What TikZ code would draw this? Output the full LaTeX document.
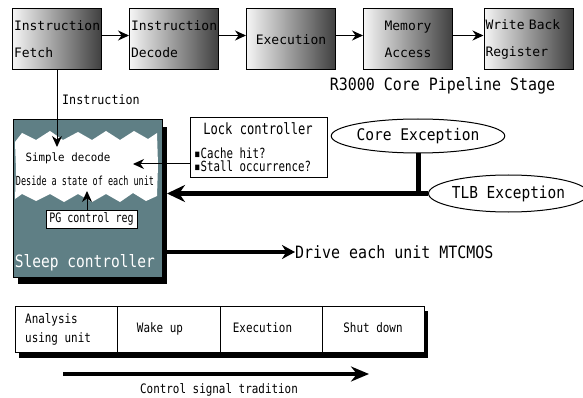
\documentclass[tikz,border=0pt]{standalone}
\usepackage{fontspec}
\setmainfont{DejaVu Sans Mono}
\usetikzlibrary{shapes.geometric,arrows.meta,shadows}
\definecolor{sleepfill}{HTML}{5F7F85}
\newcommand{\myfs}[2]{\fontsize{#1}{#2}\selectfont}
\newcommand{\tx}[3]{\scalebox{#2}[1]{\fontsize{#1}{#1}\selectfont #3}}
\begin{document}
\begin{tikzpicture}[x=1pt,y=-1pt,
  stage/.style={draw=black, line width=1pt, shading=axis, left color=white!96!black, right color=black!75,
    minimum width=89pt, minimum height=61pt, inner sep=1pt, text width=86pt, font=\myfs{13}{27}},
  pipearrow/.style={line width=1.3pt, -{Stealth[length=11pt,width=10pt]}},
  thinarrow/.style={line width=1pt, -{Stealth[length=11pt,width=10pt]}},
  bigarrow/.style={line width=5pt, -{Stealth[length=18pt,width=17pt]}},
  midarrow/.style={line width=4pt, -{Stealth[length=13pt,width=14pt]}},
  thickline/.style={line width=5pt},
  plainbox/.style={draw=black, line width=1pt, fill=white},
  exc/.style={draw=black, line width=1pt, ellipse, inner sep=0pt, fill=white},
  cell/.style={draw=black, line width=1pt, fill=white, minimum height=46pt, inner sep=0pt},
  lbl/.style={inner sep=0pt}
]
\useasboundingbox (0,0) rectangle (583,398);

% pipeline stages
\node[stage, align=left] (b1) at (57,39.5) {Instruction\\Fetch};
\node[stage, align=left] (b2) at (174,39.5) {Instruction\\Decode};
\node[stage, align=center] (b3) at (291,39.5) {Execution};
\node[stage, align=center] (b4) at (408,39.5) {Memory\\Access};
\node[stage, align=left] (b5) at (528.5,39.5) {Write Back\\Register};
\draw[pipearrow] ([yshift=4pt]b1.east) -- ([yshift=4pt]b2.west);
\draw[pipearrow] ([yshift=4pt]b2.east) -- ([yshift=4pt]b3.west);
\draw[pipearrow] ([yshift=4pt]b3.east) -- ([yshift=4pt]b4.west);
\draw[pipearrow] ([yshift=4pt]b4.east) -- ([yshift=4pt]b5.west);
\node[lbl] (title) at (442.5,86) {\tx{17}{0.88}{R3000 Core Pipeline Stage}};

% sleep controller
\node[draw=black, line width=1pt, fill=sleepfill, minimum width=149pt, minimum height=157pt, inner sep=0pt,
  drop shadow={shadow xshift=5pt, shadow yshift=-7pt, fill=black, opacity=1}] (sleep) at (87.5,198.5) {};
\fill[white] (15,142) -- (22,133) -- (36,140) -- (50,131) -- (63,140) -- (78,132) -- (92,140) -- (106,131)
  -- (120,140) -- (134,131) -- (148,139) -- (157,133) -- (158,165) -- (157,196) -- (146,201) -- (133,193)
  -- (120,202) -- (106,194) -- (92,202) -- (78,194) -- (64,202) -- (50,194) -- (36,201) -- (22,194)
  -- (15,199) -- (16,170) -- cycle;
\node[lbl] (sdec) at (68,158) {\tx{11.4}{0.95}{Simple decode}};
\node[lbl] (deside) at (85,181) {\tx{12.5}{0.68}{Deside a state of each unit}};
\node[plainbox, minimum width=91pt, minimum height=18pt, inner sep=0pt] (pg) at (91.5,219) {\tx{13}{0.77}{PG control reg}};
\coordinate (pgtip) at (87,191);
\draw[thinarrow] (pg.north -| pgtip) -- (pgtip);
\node[lbl, text=white] (sleeplbl) at (85,263) {\tx{17}{0.855}{Sleep controller}};

% instruction line
\coordinate (instip) at (57,147);
\draw[thinarrow] (b1.south) -- (instip);
\node[lbl, anchor=west] (inslbl) at (62,100) {\tx{13}{0.9}{Instruction}};

% lock controller
\node[plainbox, minimum width=137pt, minimum height=60pt, inner sep=0pt] (lock) at (258.5,148) {};
\node[lbl] (locktitle) at (258,129) {\tx{15.5}{0.78}{Lock controller}};
\node[lbl, anchor=west] (cache) at (194,153) {\tx{14}{0.77}{▪Cache hit?}};
\node[lbl, anchor=west] (stall) at (194,166) {\tx{14}{0.77}{▪Stall occurrence?}};
\coordinate (locktip) at (133,164);
\draw[thinarrow] (lock.west |- locktip) -- (locktip);

% exceptions
\node[exc, minimum width=152pt, minimum height=34pt] (core) at (418,136) {\tx{16}{0.91}{Core Exception}};
\node[exc, minimum width=143pt, minimum height=37pt] (tlb) at (508.5,193.5) {\tx{16.5}{0.876}{TLB Exception}};
\coordinate (exctip) at (167,193.5);
\draw[bigarrow] (tlb.west) -- (exctip);
\draw[thickline] (core.south) -- (core.south |- tlb.west);

% drive
\node[lbl, anchor=west] (drive) at (295,252) {\tx{17}{0.88}{Drive each unit MTCMOS}};
\draw[midarrow] (sleep.east |- drive.west) -- (drive.west);

% bottom table
\fill[black] (19,311) rectangle (428,358);
\node[cell, minimum width=102pt] (c1) at (66,329) {};
\node[cell, minimum width=103pt] (c2) at (168.5,329) {};
\node[cell, minimum width=102pt] (c3) at (271,329) {};
\node[cell, minimum width=102pt] (c4) at (373,329) {};
\node[lbl, anchor=west, align=left, font=\myfs{13}{19}] (t1) at (25,329.5) {\tx{13}{0.84}{Analysis}\\\tx{13}{0.84}{using unit}};
\node[lbl] (t2) at (160,329) {\tx{13}{0.84}{Wake up}};
\node[lbl] (t3) at (262.5,328) {\tx{13}{0.84}{Execution}};
\node[lbl] (t4) at (373,328) {\tx{13}{0.84}{Shut down}};

\coordinate (cs1) at (63,374);
\coordinate (cs2) at (369,374);
\draw[line width=4pt, -{Stealth[length=18pt,width=15pt]}] (cs1) -- (cs2);
\node[lbl] (cslbl) at (219,390) {\tx{13}{0.84}{Control signal tradition}};
\end{tikzpicture}
\end{document}
